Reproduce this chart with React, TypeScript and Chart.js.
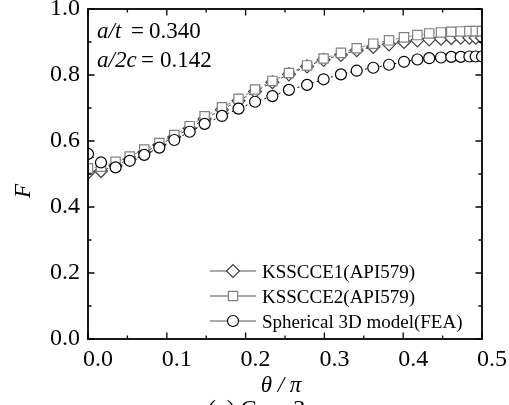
import React, { useEffect, useRef } from 'react';
import { Chart, registerables } from 'chart.js';

Chart.register(...registerables);

// theta / pi positions of the computed points
const thetaOverPi = [0, 0.0165, 0.035, 0.053, 0.0714, 0.0905, 0.1095, 0.129, 0.148, 0.17, 0.191, 0.212, 0.234, 0.255, 0.278, 0.299, 0.321, 0.341, 0.362, 0.382, 0.401, 0.418, 0.433, 0.448, 0.461, 0.473, 0.484, 0.492, 0.5];
const kssce1 = [0.504, 0.509, 0.525, 0.545, 0.566, 0.588, 0.612, 0.638, 0.667, 0.695, 0.722, 0.75, 0.778, 0.802, 0.826, 0.846, 0.861, 0.875, 0.885, 0.893, 0.9, 0.905, 0.908, 0.91, 0.912, 0.913, 0.913, 0.913, 0.913];
const kssce2 = [0.517, 0.522, 0.537, 0.553, 0.574, 0.594, 0.618, 0.645, 0.675, 0.702, 0.728, 0.756, 0.782, 0.806, 0.829, 0.85, 0.867, 0.881, 0.895, 0.905, 0.914, 0.921, 0.926, 0.929, 0.931, 0.932, 0.933, 0.933, 0.933];
const fea = [0.561, 0.535, 0.52, 0.54, 0.558, 0.58, 0.603, 0.628, 0.652, 0.676, 0.698, 0.719, 0.736, 0.755, 0.77, 0.787, 0.802, 0.813, 0.822, 0.831, 0.84, 0.847, 0.851, 0.853, 0.855, 0.855, 0.856, 0.856, 0.856];

const xTicks = [0, 0.1, 0.2, 0.3, 0.4, 0.5];
const yTicks = [0, 0.2, 0.4, 0.6, 0.8, 1.0];
const seriesLabels = ['KSSCCE1(API579)', 'KSSCCE2(API579)', 'Spherical 3D model(FEA)'];
const seriesColors = ['#404040', '#808080', '#000000'];
const seriesStyles = ['rectRot', 'rect', 'circle'];
const annotation1 = ['a/t', '=', '0.340'];
const annotation2 = ['a/2c', '=', '0.142'];
const xTitle = 'θ / π';
const yTitle = 'F';
const caption = '(c) Case 3';

const SERIF = '"Liberation Serif", "Times New Roman", serif';

function drawMarker(ctx: CanvasRenderingContext2D, style: string, x: number, y: number, color: string) {
  ctx.save();
  ctx.beginPath();
  if (style === 'rectRot') {
    const r = 6.5;
    ctx.moveTo(x - r, y);
    ctx.lineTo(x, y - r);
    ctx.lineTo(x + r, y);
    ctx.lineTo(x, y + r);
    ctx.closePath();
  } else if (style === 'rect') {
    const s = 4.6;
    ctx.rect(x - s, y - s, 2 * s, 2 * s);
  } else {
    ctx.arc(x, y, 5.5, 0, Math.PI * 2);
  }
  ctx.fillStyle = '#fff';
  ctx.fill();
  ctx.lineWidth = 1.2;
  ctx.strokeStyle = color;
  ctx.stroke();
  ctx.restore();
}

const framePlugin = {
  id: 'framePlugin',
  beforeDraw(chart: any) {
    const ctx = chart.ctx;
    ctx.save();
    ctx.fillStyle = '#fff';
    ctx.fillRect(0, 0, chart.width, chart.height);
    ctx.restore();
  },
  afterDraw(chart: any) {
    const ctx: CanvasRenderingContext2D = chart.ctx;
    const { left, right, top, bottom } = chart.chartArea;
    const xs = chart.scales.x;
    const ys = chart.scales.y;
    ctx.save();
    ctx.strokeStyle = '#000';
    ctx.lineWidth = 1.8;
    ctx.strokeRect(left, top, right - left, bottom - top);
    ctx.lineWidth = 1.3;
    const major = 6.5;
    const minor = 3.5;
    ctx.beginPath();
    for (let i = 0; i < xTicks.length; i++) {
      const px = xs.getPixelForValue(xTicks[i]);
      ctx.moveTo(px, bottom); ctx.lineTo(px, bottom - major);
      ctx.moveTo(px, top); ctx.lineTo(px, top + major);
      if (i < xTicks.length - 1) {
        const mx = xs.getPixelForValue((xTicks[i] + xTicks[i + 1]) / 2);
        ctx.moveTo(mx, bottom); ctx.lineTo(mx, bottom - minor);
        ctx.moveTo(mx, top); ctx.lineTo(mx, top + minor);
      }
    }
    for (let i = 0; i < yTicks.length; i++) {
      const py = ys.getPixelForValue(yTicks[i]);
      ctx.moveTo(left, py); ctx.lineTo(left + major, py);
      ctx.moveTo(right, py); ctx.lineTo(right - major, py);
      if (i < yTicks.length - 1) {
        const my = ys.getPixelForValue((yTicks[i] + yTicks[i + 1]) / 2);
        ctx.moveTo(left, my); ctx.lineTo(left + minor, my);
        ctx.moveTo(right, my); ctx.lineTo(right - minor, my);
      }
    }
    ctx.stroke();

    // annotations
    ctx.fillStyle = '#000';
    ctx.textBaseline = 'alphabetic';
    ctx.textAlign = 'left';
    ctx.font = `italic 23px ${SERIF}`;
    ctx.fillText(annotation1[0], left + 9, top + 29);
    ctx.fillText(annotation2[0], left + 9, top + 58);
    ctx.font = `23px ${SERIF}`;
    ctx.fillText(annotation1[1], left + 43, top + 29);
    ctx.fillText(annotation1[2], left + 61, top + 29);
    ctx.fillText(annotation2[1], left + 53, top + 58);
    ctx.fillText(annotation2[2], left + 72, top + 58);

    // legend
    const legendY = [271, 296, 321];
    for (let i = 0; i < seriesLabels.length; i++) {
      const y = legendY[i];
      ctx.beginPath();
      ctx.strokeStyle = '#555';
      ctx.lineWidth = 1.1;
      ctx.moveTo(210, y); ctx.lineTo(256, y);
      ctx.stroke();
      drawMarker(ctx, seriesStyles[i], 233, y, seriesColors[i]);
      ctx.fillStyle = '#000';
      ctx.font = `19px ${SERIF}`;
      ctx.textBaseline = 'alphabetic';
      ctx.fillText(seriesLabels[i], 262, y + 6.5);
    }

    // axis titles
    ctx.font = `italic 23px ${SERIF}`;
    ctx.textAlign = 'center';
    ctx.textBaseline = 'alphabetic';
    ctx.fillText(xTitle, 281, 392);
    ctx.save();
    ctx.translate(30, 191);
    ctx.rotate(-Math.PI / 2);
    ctx.fillText(yTitle, 0, 0);
    ctx.restore();

    ctx.font = `24px ${SERIF}`;
    ctx.textAlign = 'left';
    ctx.textBaseline = 'top';
    ctx.fillText(caption, 208, 398);
    ctx.restore();
  },
};

export default function App() {
  const ref = useRef<HTMLCanvasElement | null>(null);
  useEffect(() => {
    if (!ref.current) return;
    const mk = (vals: number[]) => thetaOverPi.map((x, i) => ({ x, y: vals[i] }));
    const series = [kssce1, kssce2, fea];
    const orders = [3, 2, 1];
    const radii = [6.5, 6.6, 5.5];
    const dashes = [[3, 3], [4, 3], [2, 3]];
    const chart = new Chart(ref.current, {
      type: 'line',
      data: {
        datasets: series.map((s, i) => ({
          label: seriesLabels[i],
          data: mk(s),
          order: orders[i],
          borderColor: seriesColors[i],
          borderWidth: 1,
          borderDash: dashes[i],
          pointStyle: seriesStyles[i] as any,
          pointRadius: radii[i],
          pointBorderWidth: 1.2,
          pointBorderColor: seriesColors[i],
          pointBackgroundColor: '#ffffff',
          fill: false,
          tension: 0,
          clip: 0,
        })),
      },
      options: {
        animation: false,
        responsive: false,
        devicePixelRatio: 1,
        layout: { padding: { top: 9, right: 27, left: 0, bottom: 0 } },
        plugins: { legend: { display: false }, tooltip: { enabled: false } },
        scales: {
          x: {
            type: 'linear',
            min: 0,
            max: 0.5,
            grid: { display: false, drawTicks: false },
            border: { display: false },
            afterBuildTicks: (scale: any) => { scale.ticks = xTicks.map((v) => ({ value: v })); },
            afterFit: (scale: any) => { scale.height = 66; scale.paddingLeft = 0; scale.paddingRight = 0; },
            ticks: {
              font: { family: SERIF, size: 24 },
              color: '#000',
              padding: 6,
              labelOffset: 10,
              maxRotation: 0,
              callback: (v: any) => Number(v).toFixed(1),
            },
          },
          y: {
            type: 'linear',
            min: 0,
            max: 1,
            grid: { display: false, drawTicks: false },
            border: { display: false },
            afterBuildTicks: (scale: any) => { scale.ticks = yTicks.map((v) => ({ value: v })); },
            afterFit: (scale: any) => { scale.width = 88; scale.paddingTop = 0; scale.paddingBottom = 0; },
            ticks: {
              font: { family: SERIF, size: 24 },
              color: '#000',
              padding: 8,
              callback: (v: any) => Number(v).toFixed(1),
            },
          },
        },
      },
      plugins: [framePlugin],
    });
    return () => chart.destroy();
  }, []);
  return (
    <div style={{ position: 'fixed', left: 0, top: 0, width: 509, height: 405, background: '#fff' }}>
      <canvas ref={ref} width={509} height={405} style={{ display: 'block' }} />
    </div>
  );
}
